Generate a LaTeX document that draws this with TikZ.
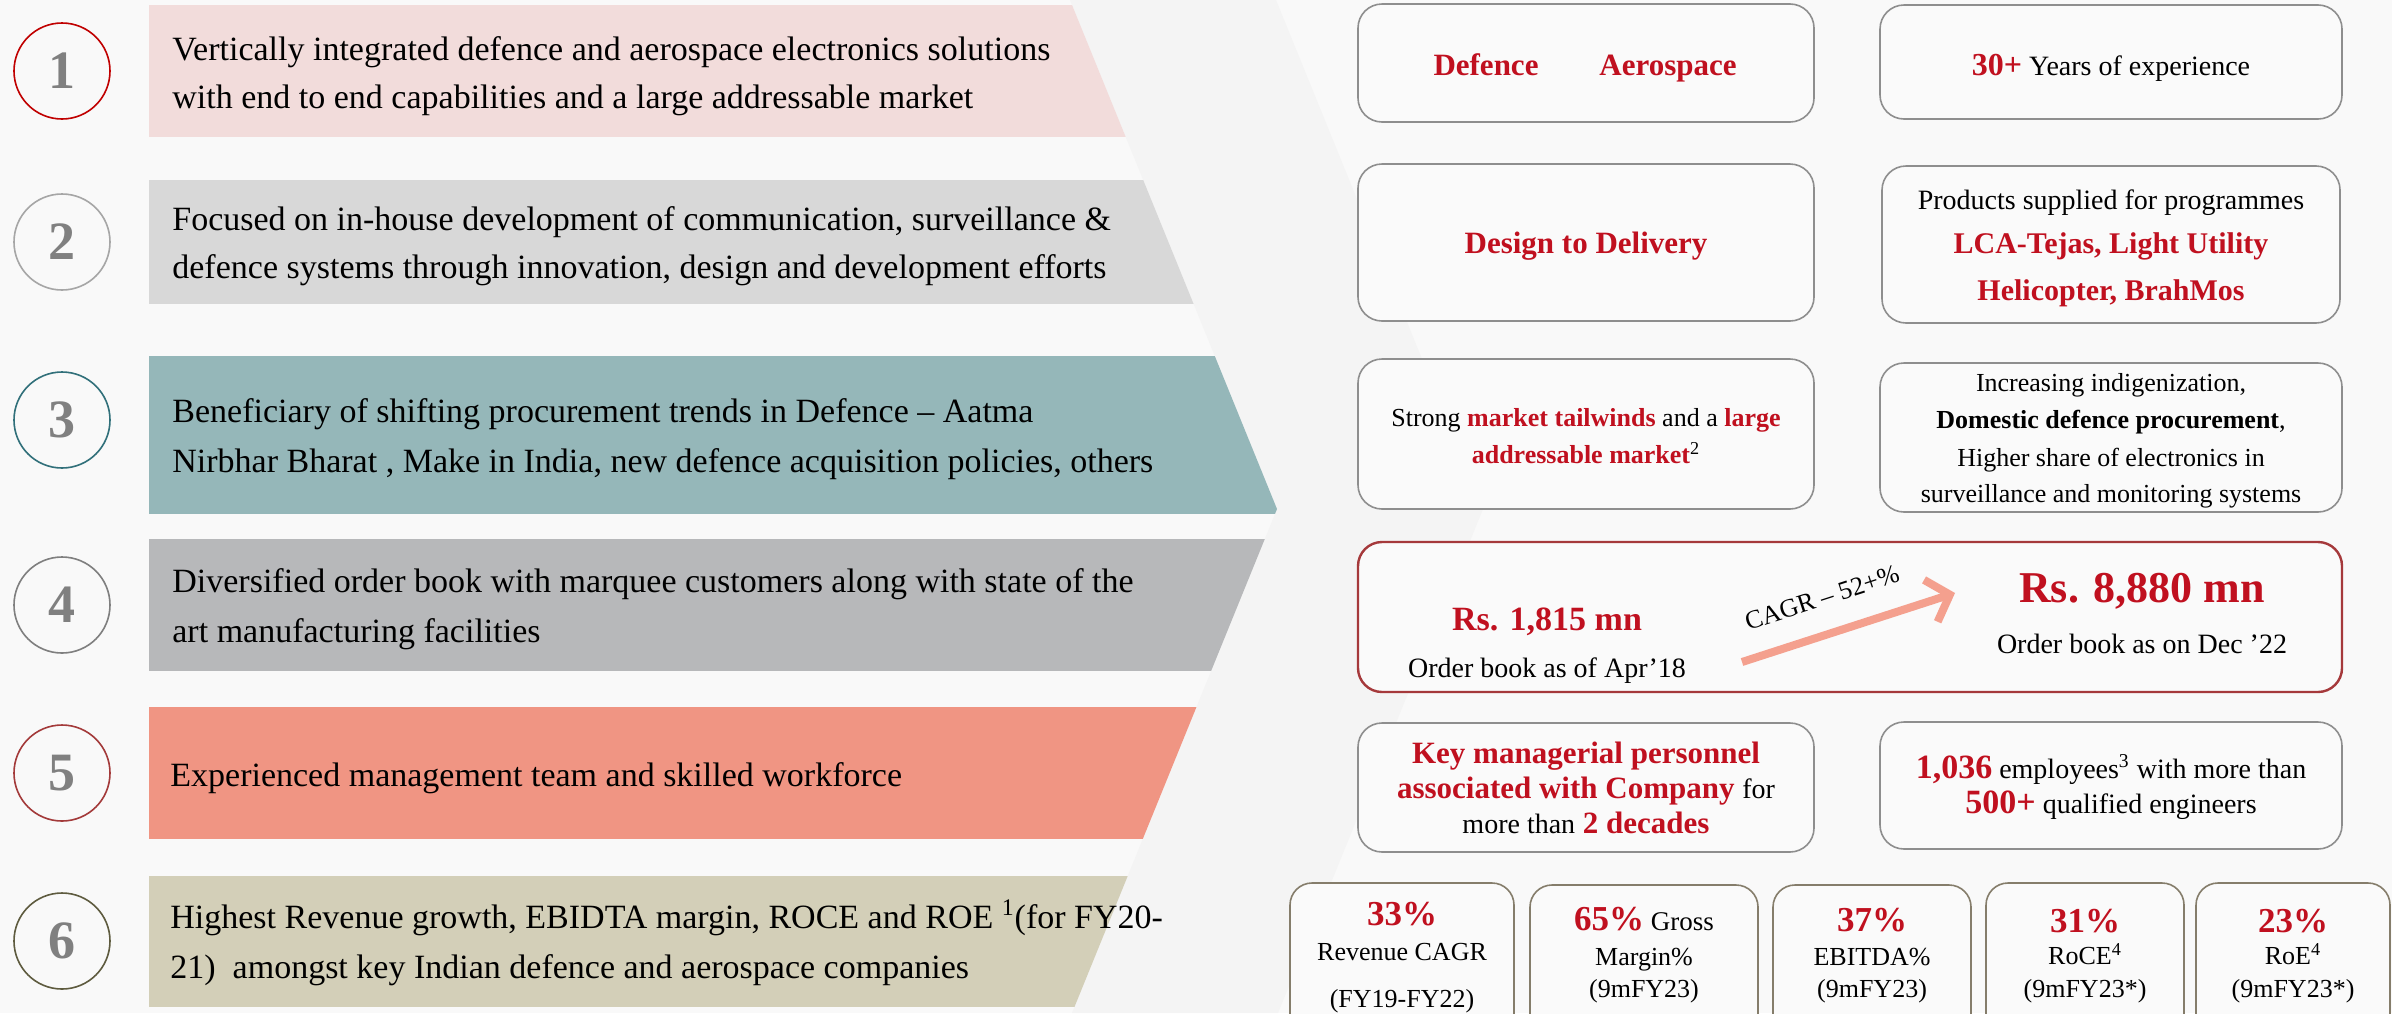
\documentclass[tikz,border=0pt]{standalone}
\usepackage{fontspec}
\setmainfont{Liberation Serif}
\usetikzlibrary{arrows.meta}
\definecolor{pagebg}{HTML}{F9F9F9}
\definecolor{bandbg}{HTML}{F4F4F4}
\definecolor{barA}{HTML}{F2DCDB}
\definecolor{barB}{HTML}{D8D8D8}
\definecolor{barC}{HTML}{95B7B9}
\definecolor{barD}{HTML}{B7B8BA}
\definecolor{barE}{HTML}{F09583}
\definecolor{barF}{HTML}{D3CFB8}
\definecolor{cirA}{HTML}{C00000}
\definecolor{cirB}{HTML}{A6A6A6}
\definecolor{cirC}{HTML}{31707A}
\definecolor{cirD}{HTML}{7F7F7F}
\definecolor{cirE}{HTML}{A33A3A}
\definecolor{cirF}{HTML}{5E5B3F}
\definecolor{numgray}{HTML}{808080}
\definecolor{ared}{HTML}{C0101F}
\definecolor{boxline}{HTML}{8E8E8E}
\definecolor{boxfill}{HTML}{FAFAFA}
\definecolor{ordline}{HTML}{A5393B}
\definecolor{kpiline}{HTML}{857D6B}
\definecolor{arrowc}{HTML}{F4A08E}
\newcommand\redbf[1]{\textcolor{ared}{\bfseries #1}}
\newcommand\fsz[1]{\fontsize{#1}{#1}\selectfont}
\begin{document}
\begin{tikzpicture}[x=0.5pt,y=-0.5pt,
  bartxt/.style={anchor=base west,inner sep=0pt,font=\fsz{17}},
  numcirc/.style={circle,draw,minimum size=48pt,inner sep=0pt,line width=0.8pt,text=numgray,font=\fsz{27}\bfseries},
  rbox/.style={draw=boxline,line width=0.8pt,fill=boxfill,rounded corners=12pt},
  obox/.style={draw=ordline,line width=1.2pt,fill=boxfill,rounded corners=12pt},
  kbox/.style={draw=kpiline,line width=0.8pt,fill=boxfill,rounded corners=11pt},
  rtxt/.style={anchor=base,inner sep=0pt,font=\fsz{14}},
  bigred/.style={rtxt,text=ared,font=\fsz{#1}\bfseries}
]
\useasboundingbox (0,0) rectangle (2392,1013);
\clip (0,0) rectangle (2392,1013);
\fill[pagebg] (0,0) rectangle (2392,1013);
% background band
\fill[bandbg] (1070,0) -- (1276,0) -- (1483,509) -- (1278,1013) -- (1072,1013) -- (1277,509) -- cycle;
% bars
\begin{scope}
\clip (0,0) -- (1070,0) -- (1277,509) -- (1072,1013) -- (0,1013) -- cycle;
\fill[barA] (149,5) rectangle (1400,137);
\fill[barB] (149,180) rectangle (1400,304);
\fill[barC] (149,356) rectangle (1400,514);
\fill[barD] (149,539) rectangle (1400,671);
\fill[barE] (149,707) rectangle (1400,839);
\fill[barF] (149,876) rectangle (1400,1007);
\end{scope}
% numbers
\node[numcirc,draw=cirA] (n1) at (62,71) {1};
\node[numcirc,draw=cirB] (n2) at (62,242) {2};
\node[numcirc,draw=cirC] (n3) at (62,420) {3};
\node[numcirc,draw=cirD] (n4) at (62,605) {4};
\node[numcirc,draw=cirE] (n5) at (62,773) {5};
\node[numcirc,draw=cirF] (n6) at (62,941) {6};
% bar texts
\node[bartxt] (b1a) at (172,60) {Vertically integrated defence and aerospace electronics solutions};
\node[bartxt] (b1b) at (172,108) {with end to end capabilities and a large addressable market};
\node[bartxt] (b2a) at (172,230) {Focused on in-house development of communication, surveillance \&};
\node[bartxt] (b2b) at (172,278) {defence systems through innovation, design and development efforts};
\node[bartxt] (b3a) at (172,422) {Beneficiary of shifting procurement trends in Defence – Aatma};
\node[bartxt] (b3b) at (172,472) {Nirbhar Bharat , Make in India, new defence acquisition policies, others};
\node[bartxt] (b4a) at (172,592) {Diversified order book with marquee customers along with state of the};
\node[bartxt] (b4b) at (172,642) {art manufacturing facilities};
\node[bartxt] (b5a) at (170,786) {Experienced management team and skilled workforce};
\node[bartxt] (b6a) at (170,928) {Highest Revenue growth, EBIDTA margin, ROCE and ROE \textsuperscript{1}(for FY20-};
\node[bartxt] (b6b) at (170,978) {21)\ \ amongst key Indian defence and aerospace companies};
% right boxes
\draw[rbox] (1358,4) rectangle (1814,122);
\draw[rbox] (1880,5) rectangle (2342,119);
\draw[rbox] (1358,164) rectangle (1814,321);
\draw[rbox] (1882,166) rectangle (2340,323);
\draw[rbox] (1358,359) rectangle (1814,509);
\draw[rbox] (1880,363) rectangle (2342,512);
\draw[obox] (1358,542) rectangle (2342,692);
\draw[rbox] (1358,723) rectangle (1814,852);
\draw[rbox] (1880,722) rectangle (2342,849);
\draw[kbox] (1290,883) rectangle (1514,1040);
\draw[kbox] (1530,885) rectangle (1758,1040);
\draw[kbox] (1773,885) rectangle (1971,1040);
\draw[kbox] (1986,883) rectangle (2184,1040);
\draw[kbox] (2196,883) rectangle (2390,1040);
% texts right
\node[bigred=15.5] (t1a) at (1486,75) {Defence};
\node[bigred=15.5] (t1b) at (1668,75) {Aerospace};
\node[rtxt] (t2) at (2111,75) {\redbf{\fsz{16}30+} Years of experience};
\node[bigred=15.5] (t3) at (1586,253) {Design to Delivery};
\node[rtxt] (t4a) at (2111,209) {Products supplied for programmes};
\node[bigred=15] (t4b) at (2111,253) {LCA-Tejas, Light Utility};
\node[bigred=15] (t4c) at (2111,300) {Helicopter, BrahMos};
\node[rtxt,font=\fsz{13}] (t5a) at (1586,426) {Strong \redbf{market tailwinds} and a \redbf{large}};
\node[rtxt,font=\fsz{13}] (t5b) at (1586,463) {\redbf{addressable market}\textsuperscript{2}};
\node[rtxt,font=\fsz{13}] (t6a) at (2111,391) {Increasing indigenization,};
\node[rtxt,font=\fsz{13}] (t6b) at (2111,428) {\textbf{Domestic defence procurement},};
\node[rtxt,font=\fsz{13}] (t6c) at (2111,466) {Higher share of electronics in};
\node[rtxt,font=\fsz{13}] (t6d) at (2111,502) {surveillance and monitoring systems};
\node[bigred=17] (t7a) at (1547,630) {Rs. 1,815 mn};
\node[rtxt] (t7b) at (1547,677) {Order book as of Apr’18};
\node[bigred=22] (t7c) at (2142,602) {Rs. 8,880 mn};
\node[rtxt] (t7d) at (2142,653) {Order book as on Dec ’22};
\coordinate (as) at (1742,662);
\coordinate (ae) at (1955,593);
\draw[arrowc,line width=4pt,-{Straight Barb[length=10pt,width=22pt]}] (as) -- (ae);
\node[rotate=18,inner sep=0pt,font=\fsz{13}] (cagr) at (1822,598) {CAGR – 52+\%};
\node[rtxt,font=\fsz{15.5}] (t8a) at (1586,763) {\redbf{Key managerial personnel}};
\node[rtxt,font=\fsz{15.5}] (t8b) at (1586,798) {\redbf{associated with Company} {\fsz{14}for}};
\node[rtxt,font=\fsz{15.5}] (t8c) at (1586,833) {{\fsz{14}more than} \redbf{2 decades}};
\node[rtxt] (t9a) at (2111,778) {\redbf{\fsz{17}1,036} employees\textsuperscript{3} with more than};
\node[rtxt] (t9b) at (2111,813) {\redbf{\fsz{17}500+} qualified engineers};
% KPI boxes
\node[bigred=17.5] (k1a) at (1402,925) {33\%};
\node[rtxt,font=\fsz{13}] (k1b) at (1402,960) {Revenue CAGR};
\node[rtxt,font=\fsz{13}] (k1c) at (1402,1007) {(FY19-FY22)};
\node[rtxt,font=\fsz{13.5}] (k2a) at (1644,930) {\redbf{\fsz{17.5}65\%} Gross};
\node[rtxt,font=\fsz{13}] (k2b) at (1644,965) {Margin\%};
\node[rtxt,font=\fsz{13}] (k2c) at (1644,997) {(9mFY23)};
\node[bigred=17.5] (k3a) at (1872,931) {37\%};
\node[rtxt,font=\fsz{13}] (k3b) at (1872,965) {EBITDA\%};
\node[rtxt,font=\fsz{13}] (k3c) at (1872,997) {(9mFY23)};
\node[bigred=17.5] (k4a) at (2085,932) {31\%};
\node[rtxt,font=\fsz{13}] (k4b) at (2085,964) {RoCE\textsuperscript{4}};
\node[rtxt,font=\fsz{13}] (k4c) at (2085,997) {(9mFY23*)};
\node[bigred=17.5] (k5a) at (2293,932) {23\%};
\node[rtxt,font=\fsz{13}] (k5b) at (2293,964) {RoE\textsuperscript{4}};
\node[rtxt,font=\fsz{13}] (k5c) at (2293,997) {(9mFY23*)};
\end{tikzpicture}
\end{document}
